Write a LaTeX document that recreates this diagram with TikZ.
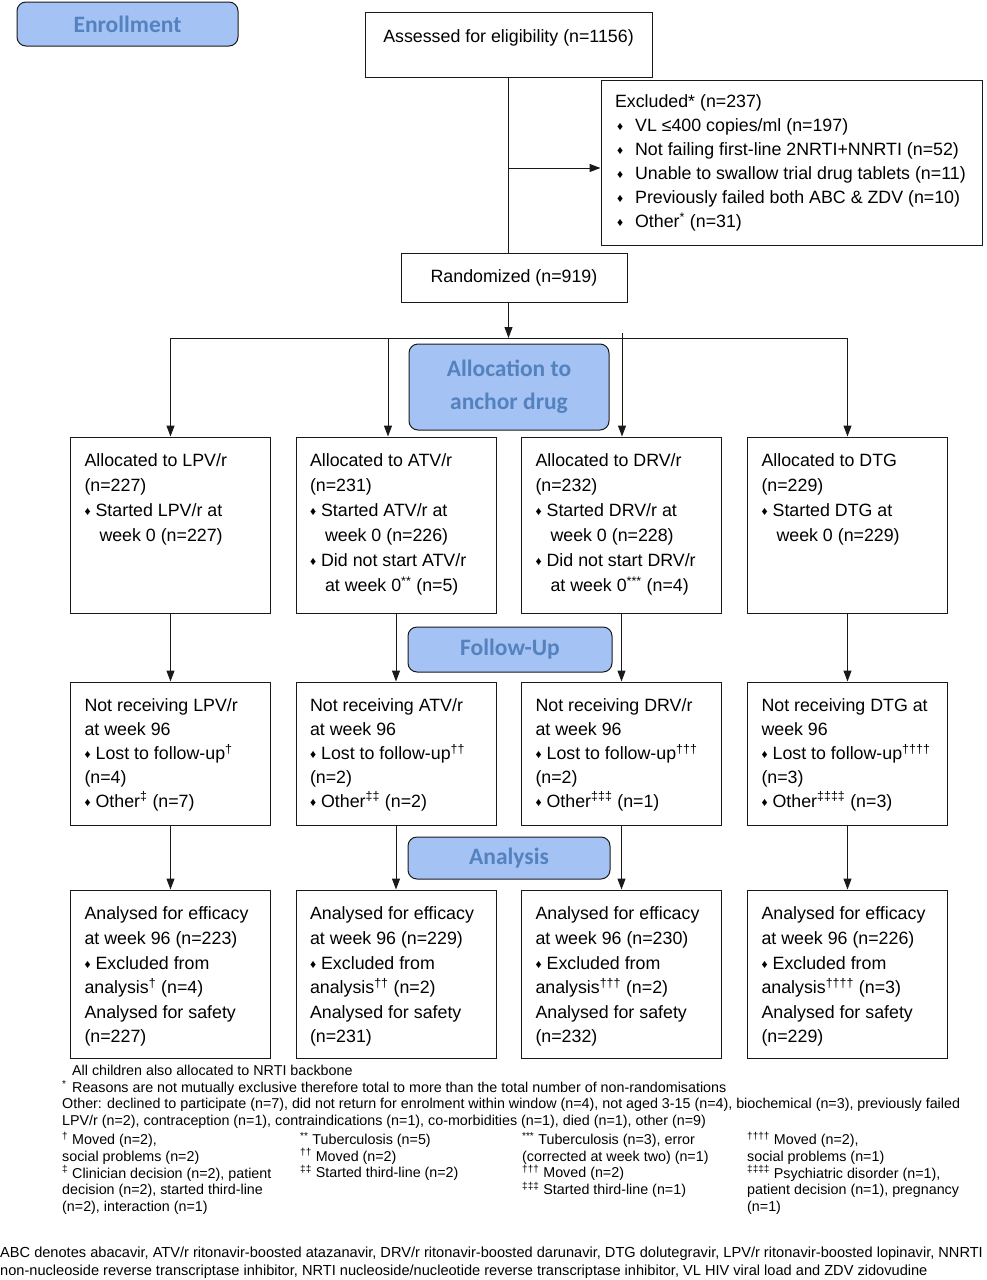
\documentclass[tikz,border=0pt]{standalone}
\usepackage{fontspec}
\setmainfont{Liberation Sans}
\newfontfamily\phasefont{Carlito}
\usetikzlibrary{arrows.meta,positioning,calc}
\definecolor{phaseFill}{HTML}{A4C2F4}
\definecolor{phaseText}{HTML}{5482BE}
\definecolor{lineGray}{HTML}{1A1A1A}
% small diamond bullet and hanging indent
\newcommand{\bul}{{\fontsize{12}{12}\selectfont\raisebox{1pt}{\char"2666}}\hspace{5pt}}
\newcommand{\ind}{\hspace*{15pt}}
\newcommand{\cellbox}[3]{\parbox[t][#2][t]{#1}{\raggedright#3}}

\begin{document}
\begin{tikzpicture}[x=1pt,y=-1pt,
  box/.style={draw=lineGray, line width=1pt, inner xsep=14pt, inner ysep=17pt,
    font=\fontsize{17.8}{25}\selectfont},
  phase/.style={draw=lineGray, line width=1pt, fill=phaseFill, rounded corners=9pt,
    text=phaseText, font=\phasefont\bfseries\fontsize{23.5}{33}\selectfont,
    align=center, inner sep=0pt},
  arr/.style={draw=lineGray, line width=1pt, -{Triangle[length=11pt,width=8pt]}},
  line/.style={draw=lineGray, line width=1pt},
  note/.style={anchor=north west, inner sep=0pt, align=left,
    font=\fontsize{14.3}{16.7}\selectfont}]
  \useasboundingbox (0,0) rectangle (987,1280);

  % phase labels
  \node[phase, minimum width=221pt, minimum height=44pt] (enroll) at (127.5,24) {Enrollment};
  \node[phase, minimum width=200pt, minimum height=86pt] (alloc) at (509,387) {Allocation to\\anchor drug};
  \node[phase, minimum width=204pt, minimum height=45pt] (follow) at (510,649.5) {Follow-Up};
  \node[phase, minimum width=202pt, minimum height=42pt] (analys) at (509,858) {Analysis};

  % enrolment
  \node[box, inner ysep=17.5pt] (assess) at (508.5,44.5)
    {\cellbox{259pt}{30pt}{\centering Assessed for eligibility (n=1156)}};
  \node[box, inner ysep=14.4pt, font=\fontsize{17.8}{24}\selectfont] (excl) at (791.5,162.5)
    {\cellbox{353pt}{136.2pt}{Excluded* (n=237)\\
      \hspace*{2pt}\bul\hspace{7pt}VL ≤400 copies/ml (n=197)\\
      \hspace*{2pt}\bul\hspace{7pt}Not failing first-line 2NRTI+NNRTI (n=52)\\
      \hspace*{2pt}\bul\hspace{7pt}Unable to swallow trial drug tablets (n=11)\\
      \hspace*{2pt}\bul\hspace{7pt}Previously failed both ABC \& ZDV (n=10)\\
      \hspace*{2pt}\bul\hspace{7pt}Other\textsuperscript{*} (n=31)}};
  \node[draw=lineGray, line width=1pt, minimum width=226pt, minimum height=49pt,
    font=\fontsize{17.8}{25}\selectfont] (rand) at (514,277.5) {Randomized (n=919)};

  % allocation
  \node[box] (lpv1) at (170.5,525) {\cellbox{172pt}{142pt}{Allocated to LPV/r\\(n=227)\\
    \bul Started LPV/r at\\\ind week 0 (n=227)}};
  \node[box] (atv1) at (396,525) {\cellbox{172pt}{142pt}{Allocated to ATV/r\\(n=231)\\
    \bul Started ATV/r at\\\ind week 0 (n=226)\\
    \bul Did not start ATV/r\\\ind at week 0\textsuperscript{**} (n=5)}};
  \node[box] (drv1) at (621.5,525) {\cellbox{172pt}{142pt}{Allocated to DRV/r\\(n=232)\\
    \bul Started DRV/r at\\\ind week 0 (n=228)\\
    \bul Did not start DRV/r\\\ind at week 0\textsuperscript{***} (n=4)}};
  \node[box] (dtg1) at (847.5,525) {\cellbox{172pt}{142pt}{Allocated to DTG\\(n=229)\\
    \bul Started DTG at\\\ind week 0 (n=229)}};

  % follow-up
  \node[box, font=\fontsize{17.8}{23.8}\selectfont] (lpv2) at (170.5,753.5) {\cellbox{172pt}{109pt}{Not receiving LPV/r\\at week 96\\
    \bul Lost to follow-up\textsuperscript{†}\\(n=4)\\\bul Other\textsuperscript{‡} (n=7)}};
  \node[box, font=\fontsize{17.8}{23.8}\selectfont] (atv2) at (396,753.5) {\cellbox{172pt}{109pt}{Not receiving ATV/r\\at week 96\\
    \bul Lost to follow-up\textsuperscript{††}\\(n=2)\\\bul Other\textsuperscript{‡‡} (n=2)}};
  \node[box, font=\fontsize{17.8}{23.8}\selectfont] (drv2) at (621.5,753.5) {\cellbox{172pt}{109pt}{Not receiving DRV/r\\at week 96\\
    \bul Lost to follow-up\textsuperscript{†††}\\(n=2)\\\bul Other\textsuperscript{‡‡‡} (n=1)}};
  \node[box, font=\fontsize{17.8}{23.8}\selectfont] (dtg2) at (847.5,753.5) {\cellbox{172pt}{109pt}{Not receiving DTG at\\week 96\\
    \bul Lost to follow-up\textsuperscript{††††}\\(n=3)\\\bul Other\textsuperscript{‡‡‡‡} (n=3)}};

  % analysis
  \node[box, font=\fontsize{17.8}{24.6}\selectfont] (lpv3) at (170.5,974) {\cellbox{172pt}{134pt}{Analysed for efficacy\\at week 96 (n=223)\\
    \bul Excluded from\\analysis\textsuperscript{†} (n=4)\\Analysed for safety\\(n=227)}};
  \node[box, font=\fontsize{17.8}{24.6}\selectfont] (atv3) at (396,974) {\cellbox{172pt}{134pt}{Analysed for efficacy\\at week 96 (n=229)\\
    \bul Excluded from\\analysis\textsuperscript{††} (n=2)\\Analysed for safety\\(n=231)}};
  \node[box, font=\fontsize{17.8}{24.6}\selectfont] (drv3) at (621.5,974) {\cellbox{172pt}{134pt}{Analysed for efficacy\\at week 96 (n=230)\\
    \bul Excluded from\\analysis\textsuperscript{†††} (n=2)\\Analysed for safety\\(n=232)}};
  \node[box, font=\fontsize{17.8}{24.6}\selectfont] (dtg3) at (847.5,974) {\cellbox{172pt}{134pt}{Analysed for efficacy\\at week 96 (n=226)\\
    \bul Excluded from\\analysis\textsuperscript{††††} (n=3)\\Analysed for safety\\(n=229)}};

  % connectors
  \coordinate (exbr) at (508.5,168);
  \coordinate (split) at (508.5,338);
  \draw[line] (assess.south) -- (assess.south |- rand.north);
  \draw[arr] (exbr) -- (exbr -| excl.west);
  \draw[arr] (assess.south |- rand.south) -- (split);
  \draw[line] (lpv1.north |- split) -- (dtg1.north |- split);
  \draw[arr] (lpv1.north |- split) -- (lpv1.north);
  \draw[arr] ($(atv1.north |- split)+(-8,0)$) -- ($(atv1.north)+(-8,0)$);
  \draw[arr] ($(drv1.north |- split)+(0.5,-5)$) -- ($(drv1.north)+(0.5,0)$);
  \draw[arr] (dtg1.north |- split) -- (dtg1.north);
  \foreach \c in {lpv,atv,drv,dtg}{
    \draw[arr] (\c1.south) -- (\c2.north);
    \draw[arr] (\c2.south) -- (\c3.north);
  }

  % footnotes
  \node[note] (notes) at (62,1065) {\hspace*{10pt}All children also allocated to NRTI backbone\\
    \makebox[10pt][l]{\textsuperscript{*}}Reasons are not mutually exclusive therefore total to more than the total number of non-randomisations\\
    Other: declined to participate (n=7), did not return for enrolment within window (n=4), not aged 3-15 (n=4), biochemical (n=3), previously failed\\
    LPV/r (n=2), contraception (n=1), contraindications (n=1), co-morbidities (n=1), died (n=1), other (n=9)};
  \node[note] (fnlpv) at (62,1132) {\textsuperscript{†} Moved (n=2),\\social problems (n=2)\\
    \textsuperscript{‡} Clinician decision (n=2), patient\\decision (n=2), started third-line\\(n=2), interaction (n=1)};
  \node[note] (fnatv) at (300,1132) {\textsuperscript{**} Tuberculosis (n=5)\\
    \textsuperscript{††} Moved (n=2)\\\textsuperscript{‡‡} Started third-line (n=2)};
  \node[note] (fndrv) at (522,1132) {\textsuperscript{***} Tuberculosis (n=3), error\\(corrected at week two) (n=1)\\
    \textsuperscript{†††} Moved (n=2)\\\textsuperscript{‡‡‡} Started third-line (n=1)};
  \node[note] (fndtg) at (747,1132) {\textsuperscript{††††} Moved (n=2),\\social problems (n=1)\\
    \textsuperscript{‡‡‡‡} Psychiatric disorder (n=1),\\patient decision (n=1), pregnancy\\(n=1)};
  \node[note, font=\fontsize{14.6}{18}\selectfont] (abbr) at (0,1247) {ABC denotes abacavir, ATV/r ritonavir-boosted atazanavir, DRV/r ritonavir-boosted darunavir, DTG dolutegravir, LPV/r ritonavir-boosted lopinavir, NNRTI\\
    non-nucleoside reverse transcriptase inhibitor, NRTI nucleoside/nucleotide reverse transcriptase inhibitor, VL HIV viral load and ZDV zidovudine};
\end{tikzpicture}
\end{document}
